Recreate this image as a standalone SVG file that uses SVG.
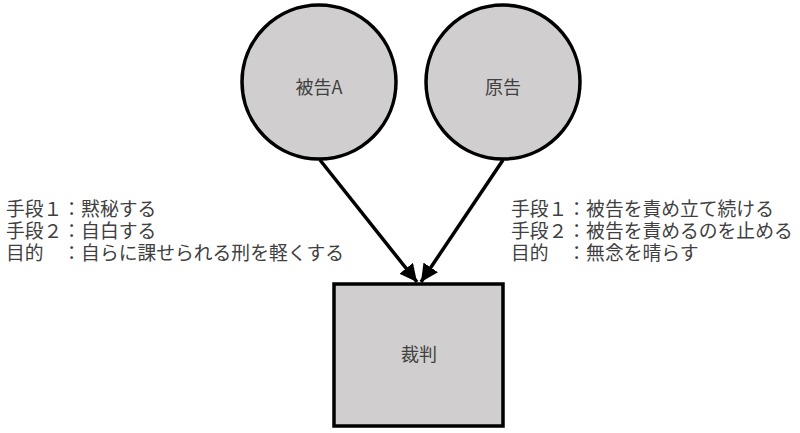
<svg xmlns="http://www.w3.org/2000/svg" width="800" height="433" viewBox="0 0 800 433">
<style>
.node{fill:#d0cece;stroke:#000;stroke-width:3.5}
.lbl{font-family:"Noto Sans CJK JP","Noto Sans",sans-serif;font-size:18px;fill:#404040}
.note{font-family:"Noto Sans CJK JP","Noto Sans",sans-serif;font-size:18.8px;fill:#404040}
.edge{stroke:#000;stroke-width:3.5;fill:none}
</style>
<defs>
<marker id="ah" viewBox="0 0 10 10" refX="10" refY="5" markerWidth="5" markerHeight="5" markerUnits="strokeWidth" orient="auto">
<path d="M0,0 L10,5 L0,10 z" fill="#000"/>
</marker>
</defs>
<rect width="800" height="433" fill="#fff"/>
<g id="connectors">
<line class="edge" x1="320" y1="160" x2="417" y2="282" marker-end="url(#ah)"/>
<line class="edge" x1="503" y1="160" x2="421" y2="282" marker-end="url(#ah)"/>
</g>
<g id="defendant">
<circle class="node" cx="319" cy="82" r="77"/>
<text class="lbl" x="319" y="94" text-anchor="middle">被告A</text>
</g>
<g id="plaintiff">
<circle class="node" cx="503" cy="82" r="77"/>
<text class="lbl" x="503" y="94" text-anchor="middle">原告</text>
</g>
<g id="trial">
<rect class="node" x="334" y="284" width="169" height="142"/>
<text class="lbl" x="419" y="361" text-anchor="middle">裁判</text>
</g>
<g id="notes-left">
<text class="note" x="6" y="216">手段１：黙秘する<tspan x="6" y="238">手段２：自白する</tspan><tspan x="6" y="260">目的　：自らに課せられる刑を軽くする</tspan></text>
</g>
<g id="notes-right">
<text class="note" x="511" y="216">手段１：被告を責め立て続ける<tspan x="511" y="238">手段２：被告を責めるのを止める</tspan><tspan x="511" y="260">目的　：無念を晴らす</tspan></text>
</g>
</svg>
